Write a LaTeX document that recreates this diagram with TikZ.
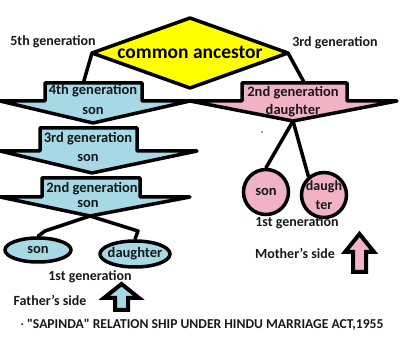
\documentclass[tikz,border=0pt]{standalone}
\usepackage{fontspec}
\setmainfont{Carlito}
\usetikzlibrary{shapes.geometric}
\definecolor{lblue}{RGB}{166,216,230}
\definecolor{lpink}{RGB}{242,178,198}
\definecolor{dyellow}{RGB}{255,255,0}
\begin{document}
\begin{tikzpicture}[x=1pt,y=-1pt,
  outl/.style={draw=black,line width=3.5pt,line join=round},
  conn/.style={draw=black,line width=3.5pt,line cap=round},
  lbl/.style={font=\bfseries\fontsize{14}{15}\selectfont,inner sep=0pt,text=black!90},
  intext/.style={font=\bfseries\fontsize{14.5}{15}\selectfont,inner sep=0pt,text=black!90},
  bell/.style={ellipse,draw=black,line width=3.5pt,fill=lblue,inner sep=0pt},
  pcirc/.style={circle,draw=black,line width=3.5pt,fill=lpink,inner sep=0pt,minimum size=45pt}]
\useasboundingbox (0,0) rectangle (400,337);

% diamond
\coordinate (dl) at (92,53);
\coordinate (dt) at (190,18);
\coordinate (dr) at (288,53);
\coordinate (db) at (190,88);
\draw[outl,fill=dyellow] (dl) -- (dt) -- (dr) -- (db) -- cycle;
\node[font=\bfseries\fontsize{19.5}{20}\selectfont,inner sep=0pt] (anc) at (190,52) {common ancestor};

% connectors from diamond
\coordinate (a4top) at (83,84);
\coordinate (p2top) at (305,84);
\draw[conn] (dl) -- (a4top);
\draw[conn] (dr) -- (p2top);

% 4th generation arrow
\draw[outl,fill=lblue] (45,83) -- (142,83) -- (142,101) -- (190,101) -- (93,123) -- (0,101) -- (45,101) -- cycle;
\node[intext] (g4a) at (93,91) {4th generation};
\node[intext] (g4b) at (93,111) {son};

% 3rd generation arrow
\draw[outl,fill=lblue] (40,128) -- (137,128) -- (137,151) -- (197,151) -- (92,173) -- (0,151) -- (40,151) -- cycle;
\node[intext] (g3a) at (88,139) {3rd generation};
\node[intext] (g3b) at (88,158) {son};

% 2nd generation son arrow
\draw[outl,fill=lblue] (42,178) -- (140,178) -- (140,197) -- (190,197) -- (90,216) -- (0,197) -- (42,197) -- cycle;
\coordinate (apexs) at (90,216);
\node[intext] (g2a) at (92,189) {2nd generation};
\node[intext] (g2b) at (88,204) {son};

% pink 2nd generation daughter arrow
\draw[outl,fill=lpink] (242,83) -- (347,83) -- (347,101) -- (397,101) -- (293,121) -- (190,101) -- (242,101) -- cycle;
\coordinate (apexd) at (293,121);
\node[intext] (p2a) at (293,93) {2nd generation};
\node[intext] (p2b) at (293,111) {daughter};

% blue children
\node[bell,minimum width=66pt,minimum height=24pt] (bson) at (38,250) {};
\node[intext] at (bson) {son};
\node[bell,minimum width=70pt,minimum height=26pt] (bdau) at (135,254) {};
\node[intext] at (bdau) {daughter};
\coordinate (bj1) at (45,231);
\coordinate (bj2) at (138,231);
\draw[conn,line join=round] (apexs) -- (bj1) -- (bson.north);
\draw[conn,line join=round] (apexs) -- (bj2) -- (bdau.north);

% pink children
\node[pcirc] (pson) at (266,192) {};
\node[intext] at (pson) {son};
\node[pcirc] (pdau) at (324,195) {};
\node[intext,align=center,font=\bfseries\fontsize{14}{19}\selectfont] at (pdau) {daugh\\ter};
\draw[conn] (apexd) -- (pson.north);
\draw[conn] (apexd) -- (pdau.130);
\fill[black!70] (262,132) circle (0.8pt);

% labels
\node[lbl] (l5) at (53,42) {5th generation};
\node[lbl] (l3) at (335,43) {3rd generation};
\node[lbl] (l1a) at (90,277) {1st generation};
\node[lbl] (l1b) at (297,223) {1st generation};
\node[lbl] (fs) at (50,300) {Father's side};
\node[lbl] (ms) at (295,253) {Mother's side};

% up arrows
\draw[outl,line width=4pt,line join=miter,fill=lblue] (121.5,284) -- (139,298) -- (128,298) -- (128,310) -- (115,310) -- (115,298) -- (104,298) -- cycle;
\draw[outl,line width=4pt,line join=miter,fill=lpink] (359.5,234) -- (374,252) -- (366,252) -- (366,272) -- (353,272) -- (353,252) -- (345,252) -- cycle;

% title
\node[lbl,font=\bfseries\fontsize{13.6}{15}\selectfont] (title) at (202,325) {{\mdseries\textperiodcentered} \textquotedbl SAPINDA\textquotedbl{} RELATION SHIP UNDER HINDU MARRIAGE ACT,1955};
\end{tikzpicture}
\end{document}
